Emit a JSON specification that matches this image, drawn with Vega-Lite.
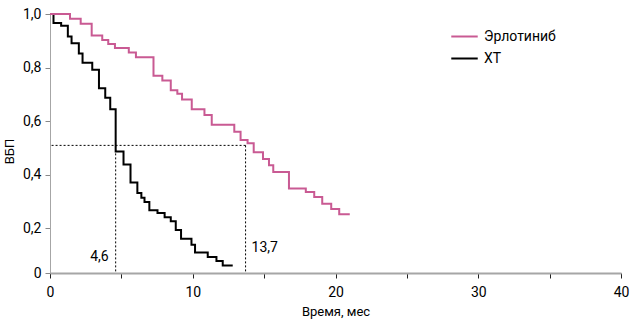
{
  "$schema": "https://vega.github.io/schema/vega-lite/v6.json",
  "width": 571,
  "height": 259,
  "autosize": {"type": "none"},
  "padding": {"left": 50, "top": 14, "right": 13, "bottom": 56},
  "background": "white",
  "config": {
    "view": {"stroke": null},
    "font": "Roboto",
    "axis": {"grid": false, "labelFont": "Roboto", "titleFont": "Roboto", "labelColor": "#000", "titleColor": "#000", "titleFontWeight": "normal", "labelFlush": false, "labelOverlap": false, "labelBound": false}
  },
  "datasets": {
    "km": [
      {"group": "ХТ", "t": 0, "s": 1.0},
      {"group": "ХТ", "t": 0.245, "s": 0.966},
      {"group": "ХТ", "t": 0.78, "s": 0.956},
      {"group": "ХТ", "t": 1.25, "s": 0.916},
      {"group": "ХТ", "t": 1.51, "s": 0.891},
      {"group": "ХТ", "t": 2.02, "s": 0.853},
      {"group": "ХТ", "t": 2.28, "s": 0.818},
      {"group": "ХТ", "t": 2.96, "s": 0.792},
      {"group": "ХТ", "t": 3.43, "s": 0.723},
      {"group": "ХТ", "t": 3.87, "s": 0.688},
      {"group": "ХТ", "t": 4.22, "s": 0.645},
      {"group": "ХТ", "t": 4.6, "s": 0.487},
      {"group": "ХТ", "t": 5.15, "s": 0.439},
      {"group": "ХТ", "t": 5.64, "s": 0.372},
      {"group": "ХТ", "t": 6.12, "s": 0.332},
      {"group": "ХТ", "t": 6.4, "s": 0.315},
      {"group": "ХТ", "t": 6.62, "s": 0.299},
      {"group": "ХТ", "t": 6.96, "s": 0.268},
      {"group": "ХТ", "t": 7.53, "s": 0.258},
      {"group": "ХТ", "t": 8.03, "s": 0.242},
      {"group": "ХТ", "t": 8.46, "s": 0.227},
      {"group": "ХТ", "t": 8.81, "s": 0.194},
      {"group": "ХТ", "t": 9.18, "s": 0.162},
      {"group": "ХТ", "t": 9.91, "s": 0.139},
      {"group": "ХТ", "t": 10.16, "s": 0.11},
      {"group": "ХТ", "t": 11.05, "s": 0.094},
      {"group": "ХТ", "t": 11.66, "s": 0.079},
      {"group": "ХТ", "t": 12.1, "s": 0.062},
      {"group": "ХТ", "t": 12.8, "s": 0.062},
      {"group": "Эрлотиниб", "t": 0, "s": 1.0},
      {"group": "Эрлотиниб", "t": 1.4, "s": 0.982},
      {"group": "Эрлотиниб", "t": 2.15, "s": 0.964},
      {"group": "Эрлотиниб", "t": 2.92, "s": 0.92},
      {"group": "Эрлотиниб", "t": 3.66, "s": 0.903},
      {"group": "Эрлотиниб", "t": 4.08, "s": 0.888},
      {"group": "Эрлотиниб", "t": 4.55, "s": 0.873},
      {"group": "Эрлотиниб", "t": 5.52, "s": 0.856},
      {"group": "Эрлотиниб", "t": 6.02, "s": 0.839},
      {"group": "Эрлотиниб", "t": 7.25, "s": 0.77},
      {"group": "Эрлотиниб", "t": 7.87, "s": 0.752},
      {"group": "Эрлотиниб", "t": 8.46, "s": 0.716},
      {"group": "Эрлотиниб", "t": 8.92, "s": 0.703},
      {"group": "Эрлотиниб", "t": 9.25, "s": 0.681},
      {"group": "Эрлотиниб", "t": 9.93, "s": 0.645},
      {"group": "Эрлотиниб", "t": 10.82, "s": 0.623},
      {"group": "Эрлотиниб", "t": 11.33, "s": 0.587},
      {"group": "Эрлотиниб", "t": 12.91, "s": 0.561},
      {"group": "Эрлотиниб", "t": 13.35, "s": 0.53},
      {"group": "Эрлотиниб", "t": 13.84, "s": 0.518},
      {"group": "Эрлотиниб", "t": 14.27, "s": 0.484},
      {"group": "Эрлотиниб", "t": 14.92, "s": 0.459},
      {"group": "Эрлотиниб", "t": 15.34, "s": 0.436},
      {"group": "Эрлотиниб", "t": 15.64, "s": 0.411},
      {"group": "Эрлотиниб", "t": 16.74, "s": 0.349},
      {"group": "Эрлотиниб", "t": 17.92, "s": 0.336},
      {"group": "Эрлотиниб", "t": 18.51, "s": 0.317},
      {"group": "Эрлотиниб", "t": 19.07, "s": 0.292},
      {"group": "Эрлотиниб", "t": 19.7, "s": 0.273},
      {"group": "Эрлотиниб", "t": 20.26, "s": 0.253},
      {"group": "Эрлотиниб", "t": 21.0, "s": 0.253}
    ],
    "medians": [
      {"group": "ХТ", "median": 4.6, "label": "4,6"},
      {"group": "Эрлотиниб", "median": 13.7, "label": "13,7"}
    ]
  },
  "layer": [
    {
      "data": {"name": "medians"},
      "mark": {"type": "rule", "color": "#000", "strokeDash": [2, 2], "strokeWidth": 1},
      "encoding": {
        "x": {"field": "median", "type": "quantitative", "scale": {"domain": [0, 40], "nice": false},
          "axis": {"values": [0, 5, 10, 15, 20, 25, 30, 35, 40], "labelExpr": "datum.value % 10 == 0 ? datum.label : ''", "title": "Время, мес", "titleFontSize": 13, "labelFontSize": 14, "domainColor": "#a6a6a6", "domainWidth": 2, "tickColor": "#222", "tickSize": 5, "labelPadding": 7, "titlePadding": 6}},
        "y": {"datum": 0.51, "type": "quantitative", "scale": {"domain": [0.034, 1.0], "nice": false, "zero": false},
          "axis": {"values": [0.034, 0.2, 0.4, 0.6, 0.8, 1.0], "labelExpr": "datum.value < 0.1 ? '0' : replace(format(datum.value, '.1f'), '.', ',')", "title": "ВБП", "titleFontSize": 13, "labelFontSize": 14, "domainColor": "#a6a6a6", "domainWidth": 1, "tickColor": "#888", "tickSize": 5, "labelPadding": 4, "titleX": -34, "titleY": 137}},
        "y2": {"datum": 0.034}
      }
    },
    {
      "data": {"name": "medians"},
      "transform": [{"filter": "datum.group == 'Эрлотиниб'"}],
      "mark": {"type": "rule", "color": "#000", "strokeDash": [2, 2], "strokeWidth": 1},
      "encoding": {
        "x": {"field": "median", "type": "quantitative"},
        "x2": {"datum": 0},
        "y": {"datum": 0.51, "type": "quantitative"}
      }
    },
    {
      "data": {"name": "km"},
      "mark": {"type": "line", "interpolate": "step-after", "strokeWidth": 2},
      "encoding": {
        "x": {"field": "t", "type": "quantitative"},
        "y": {"field": "s", "type": "quantitative"},
        "color": {"field": "group", "type": "nominal",
          "scale": {"domain": ["Эрлотиниб", "ХТ"], "range": ["#c95a93", "#000000"]},
          "legend": {"title": null, "orient": "none", "legendX": 400, "legendY": 8, "symbolType": "stroke", "symbolSize": 700, "symbolStrokeWidth": 2, "labelFontSize": 14, "labelFont": "Roboto", "labelColor": "#000", "rowPadding": 0, "labelOffset": 5}}
      }
    },
    {
      "data": {"name": "medians"},
      "transform": [{"filter": "datum.group == 'ХТ'"}],
      "mark": {"type": "text", "align": "right", "baseline": "middle", "dx": -7, "fontSize": 14, "font": "Roboto", "color": "#000"},
      "encoding": {
        "x": {"field": "median", "type": "quantitative"},
        "y": {"datum": 0.094, "type": "quantitative"},
        "text": {"field": "label"}
      }
    },
    {
      "data": {"name": "medians"},
      "transform": [{"filter": "datum.group == 'Эрлотиниб'"}],
      "mark": {"type": "text", "align": "left", "baseline": "middle", "dx": 6, "fontSize": 14, "font": "Roboto", "color": "#000"},
      "encoding": {
        "x": {"field": "median", "type": "quantitative"},
        "y": {"datum": 0.128, "type": "quantitative"},
        "text": {"field": "label"}
      }
    },
    {
      "mark": {"type": "text", "align": "left", "baseline": "middle", "fontSize": 14, "font": "Roboto", "color": "#000"},
      "encoding": {
        "x": {"datum": 27.88, "type": "quantitative"},
        "y": {"datum": 0.691, "type": "quantitative"},
        "text": {"value": "ОР=0,16;"}
      }
    },
    {
      "mark": {"type": "text", "align": "left", "baseline": "middle", "fontSize": 14, "font": "Roboto", "color": "#000"},
      "encoding": {
        "x": {"datum": 27.88, "type": "quantitative"},
        "y": {"datum": 0.632, "type": "quantitative"},
        "text": {"value": "95% ДИ 0,10-0,26"}
      }
    },
    {
      "mark": {"type": "text", "align": "left", "baseline": "middle", "fontSize": 14, "font": "Roboto", "color": "#000"},
      "encoding": {
        "x": {"datum": 27.88, "type": "quantitative"},
        "y": {"datum": 0.505, "type": "quantitative"},
        "text": {"value": "p<0,0001"}
      }
    }
  ]
}
